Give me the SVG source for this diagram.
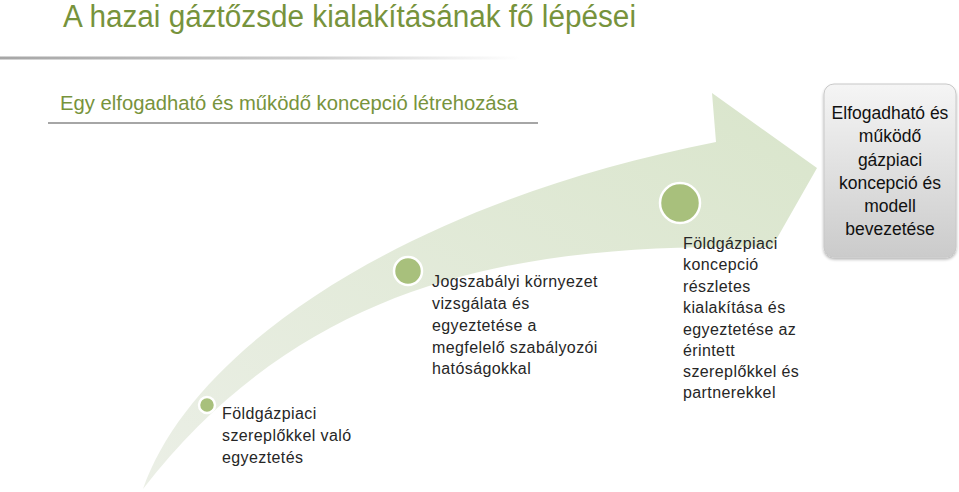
<svg xmlns="http://www.w3.org/2000/svg" width="959" height="492" viewBox="0 0 959 492">
<defs>
<linearGradient id="arrowGrad" x1="0" y1="1" x2="1" y2="0">
<stop offset="0" stop-color="#ebefe6"/>
<stop offset="1" stop-color="#d9e5cb"/>
</linearGradient>
<linearGradient id="sepGrad" x1="0" y1="0" x2="1" y2="0">
<stop offset="0" stop-color="#a6a6a6"/>
<stop offset="0.6" stop-color="#cfcfcf"/>
<stop offset="1" stop-color="#ffffff"/>
</linearGradient>
<linearGradient id="boxGrad" x1="0" y1="0" x2="0" y2="1">
<stop offset="0" stop-color="#f5f5f5"/>
<stop offset="1" stop-color="#cbcbcb"/>
</linearGradient>
<filter id="shadow" x="-10%" y="-10%" width="130%" height="130%">
<feGaussianBlur in="SourceAlpha" stdDeviation="1.5"/>
<feOffset dx="0" dy="2" result="b"/>
<feComponentTransfer><feFuncA type="linear" slope="0.3"/></feComponentTransfer>
<feMerge><feMergeNode/><feMergeNode in="SourceGraphic"/></feMerge>
</filter>
</defs>
<style>
.title{font-family:"Liberation Sans",Arial,sans-serif;fill:#77933c;}
.step{font-family:"Liberation Sans",Arial,sans-serif;font-size:16px;fill:#262626;letter-spacing:0.4px;}
.box{font-family:"Liberation Sans",Arial,sans-serif;font-size:17.5px;fill:#111;text-anchor:middle;}
.dot{fill:#a8c07c;stroke:#ffffff;stroke-width:2.5;}
</style>
<rect width="959" height="492" fill="#ffffff"/>
<g id="title">
<text class="title" x="63" y="27" font-size="31" textLength="573" lengthAdjust="spacingAndGlyphs">A hazai gáztőzsde kialakításának fő lépései</text>
<rect x="0" y="56.5" width="520" height="3" fill="url(#sepGrad)"/>
</g>
<g id="subtitle">
<text class="title" x="60" y="110" font-size="20.5" textLength="458" lengthAdjust="spacingAndGlyphs">Egy elfogadható és működő koncepció létrehozása</text>
<rect x="48" y="122" width="490" height="2" fill="#a6a6a6"/>
</g>
<g id="connectors">
<path id="arrow" d="M143,489 C195,340 420,200 716,142 L712,93 L817,168 L772,247 C560,245 320,260 143,489 Z" fill="url(#arrowGrad)"/>
</g>
<g id="step1">
<circle class="dot" cx="207" cy="405" r="8"/>
<text class="step" x="222" y="419">Földgázpiaci</text>
<text class="step" x="222" y="441">szereplőkkel való</text>
<text class="step" x="222" y="463">egyeztetés</text>
</g>
<g id="step2">
<circle class="dot" cx="408" cy="271" r="14"/>
<text class="step" x="432" y="287">Jogszabályi környezet</text>
<text class="step" x="432" y="309">vizsgálata és</text>
<text class="step" x="432" y="331">egyeztetése a</text>
<text class="step" x="432" y="353">megfelelő szabályozói</text>
<text class="step" x="432" y="374">hatóságokkal</text>
</g>
<g id="step3">
<circle class="dot" cx="680" cy="203" r="20"/>
<text class="step" x="683" y="249">Földgázpiaci</text>
<text class="step" x="683" y="270">koncepció</text>
<text class="step" x="683" y="292">részletes</text>
<text class="step" x="683" y="313">kialakítása és</text>
<text class="step" x="683" y="335">egyeztetése az</text>
<text class="step" x="683" y="356">érintett</text>
<text class="step" x="683" y="377">szereplőkkel és</text>
<text class="step" x="683" y="398">partnerekkel</text>
</g>
<g id="result">
<rect x="824" y="84" width="132" height="173" rx="10" fill="url(#boxGrad)" stroke="#c8c8c8" stroke-width="1" filter="url(#shadow)"/>
<text class="box" x="890" y="119">Elfogadható és</text>
<text class="box" x="890" y="142">működő</text>
<text class="box" x="890" y="166">gázpiaci</text>
<text class="box" x="890" y="189">koncepció és</text>
<text class="box" x="890" y="212">modell</text>
<text class="box" x="890" y="235">bevezetése</text>
</g>
</svg>
